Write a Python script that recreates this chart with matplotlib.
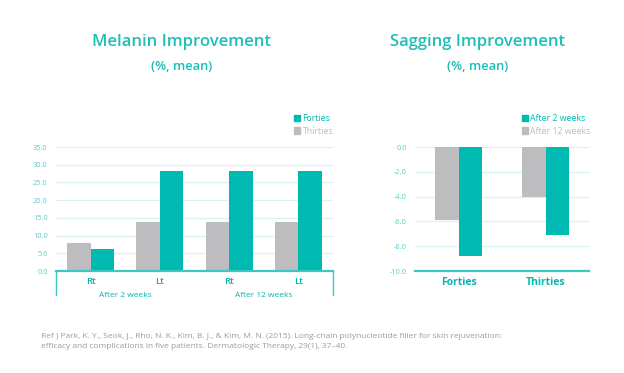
import numpy as np
import matplotlib.pyplot as plt
import matplotlib.patches as mpatches
from matplotlib.lines import Line2D

plt.rcParams['font.family'] = ['Open Sans', 'Noto Sans', 'DejaVu Sans']

# data
mel_cats = ['Rt', 'Lt', 'Rt', 'Lt']
mel_groups = ['After 2 weeks', 'After 12 weeks']
mel_thirties = [8.0, 13.7, 13.7, 13.7]
mel_forties = [6.2, 28.3, 28.3, 28.3]
mel_ticks = [0, 5, 10, 15, 20, 25, 30, 35]

sag_cats = ['Forties', 'Thirties']
sag_12w = [-5.9, -4.0]
sag_2w = [-8.8, -7.1]
sag_ticks = [0, -2, -4, -6, -8, -10]

TEAL = '#00B9B1'
GRAY = '#BDBDC0'
TITLE = '#1DBFB9'
TICK = '#5ACFCA'
GRID = '#D6F3F1'
AXIS = '#3CC7C1'

W, H = 624, 373
fig = plt.figure(figsize=(W / 100, H / 100), dpi=100)


def fx(px):
    return px / W


def fy(py):
    return 1 - py / H


# ---------- Melanin ----------
ax1 = fig.add_axes([fx(56), fy(271), fx(333) - fx(56), fy(147) - fy(271)])
x = np.arange(len(mel_cats))
bw = 0.34
ax1.bar(x - bw / 2, mel_thirties, bw, color=GRAY, zorder=2)
ax1.bar(x + bw / 2, mel_forties, bw, color=TEAL, zorder=2)
ax1.set_xlim(-0.5, len(mel_cats) - 0.5)
ax1.set_ylim(0, 35)
ax1.set_yticks(mel_ticks)
ax1.set_yticklabels([f'{t:.1f}' for t in mel_ticks])
for t in mel_ticks[1:]:
    ax1.axhline(t, color=GRID, lw=0.9, zorder=1)
ax1.set_xticks(x)
ax1.set_xticklabels(mel_cats, fontsize=6.8, fontweight='semibold', color=TEAL)
ax1.tick_params(axis='x', length=0, pad=4)
for i, g in enumerate(mel_groups):
    ax1.text(2 * i + 0.5, -0.2, g, transform=ax1.get_xaxis_transform(),
             ha='center', va='center', fontsize=6, color=TEAL)
fig.add_artist(Line2D([fx(56), fx(56)], [fy(271), fy(295)], color=AXIS, lw=1))
fig.add_artist(Line2D([fx(333), fx(333)], [fy(271), fy(295)], color=AXIS, lw=1))

# ---------- Sagging ----------
ax2 = fig.add_axes([fx(415), fy(271), fx(589) - fx(415), fy(147) - fy(271)])
x2 = np.arange(len(sag_cats))
bw2 = 0.27
ax2.bar(x2 - bw2 / 2, sag_12w, bw2, color=GRAY, zorder=2)
ax2.bar(x2 + bw2 / 2, sag_2w, bw2, color=TEAL, zorder=2)
ax2.set_xlim(-0.5, len(sag_cats) - 0.5)
ax2.set_ylim(-10, 0)
ax2.set_yticks(sag_ticks)
ax2.set_yticklabels([f'{t:.1f}' for t in sag_ticks])
for t in sag_ticks[:-1]:
    ax2.axhline(t, color=GRID, lw=0.9, zorder=1)
ax2.set_xticks(x2)
ax2.set_xticklabels(sag_cats, fontsize=7.5, fontweight='bold', color=TEAL)
ax2.tick_params(axis='x', length=0, pad=4)

for ax in (ax1, ax2):
    for s in ('top', 'right', 'left'):
        ax.spines[s].set_visible(False)
    ax.spines['bottom'].set_color(AXIS)
    ax.spines['bottom'].set_linewidth(1.6)
    ax.spines['bottom'].set_zorder(3)
    ax.tick_params(axis='y', length=0, pad=6, labelsize=5.3, labelcolor=TICK)
    ax.set_facecolor('none')

# legends
def legend(ax, labels, anchor):
    handles = [mpatches.Patch(color=TEAL), mpatches.Patch(color=GRAY)]
    lg = ax.legend(handles, labels, loc='upper left', bbox_to_anchor=anchor,
                   bbox_transform=fig.transFigure, frameon=False, fontsize=6.3,
                   handlelength=0.72, handleheight=0.72, handletextpad=0.25,
                   labelspacing=0.4, borderpad=0, borderaxespad=0)
    for txt, c in zip(lg.get_texts(), [TEAL, GRAY]):
        txt.set_color(c)


legend(ax1, ['Forties', 'Thirties'], (fx(294), fy(114)))
legend(ax2, ['After 2 weeks', 'After 12 weeks'], (fx(522), fy(114)))

# titles
for cx, title in ((182, 'Melanin Improvement'), (478, 'Sagging Improvement')):
    fig.text(fx(cx), fy(42), title, ha='center', va='center', fontsize=12,
             fontweight='semibold', color=TITLE)
    fig.text(fx(cx), fy(66), '(%, mean)', ha='center', va='center', fontsize=9.3,
             fontweight='semibold', color=TITLE)

# reference
fig.text(fx(41), fy(337), 'Ref ) Park, K. Y., Seok, J., Rho, N. K., Kim, B. J., & Kim, M. N. (2015). '
         'Long-chain polynucleotide filler for skin rejuvenation:',
         ha='left', va='center', fontsize=6.0, color='#9C9C9C')
fig.text(fx(41), fy(346.5), 'efficacy and complications in five patients. Dermatologic Therapy, 29(1), 37\u201340.',
         ha='left', va='center', fontsize=6.0, color='#9C9C9C')

fig.savefig('out.png', dpi=100)
